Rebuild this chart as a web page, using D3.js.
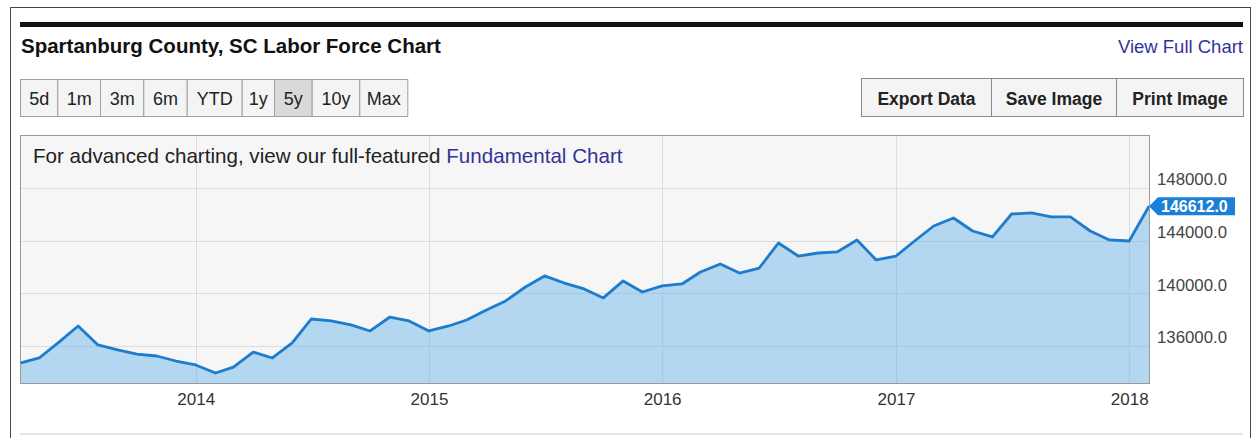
<!DOCTYPE html>
<html><head><meta charset="utf-8">
<script src="https://cdn.jsdelivr.net/npm/d3@7"></script>
<style>
html,body{margin:0;padding:0;background:#fff;}
svg{display:block;font-family:"Liberation Sans",Arial,sans-serif;}
</style></head>
<body>
<svg id="c" width="1253" height="438"></svg>
<script>
// ---- data ----
const startMonth = "2013-04";
const laborForce = [
 134700,135090,136300,137520,136080,135700,135390,135240,134860,134560,
 133950,134400,135540,135090,136230,138050,137900,137600,137140,138200,
 137900,137140,137520,137970,138730,139420,140480,141320,140780,140330,
 139650,140940,140100,140560,140710,141620,142230,141540,141920,143820,
 142830,143060,143140,144050,142530,142830,144050,145110,145720,144730,
 144280,146020,146100,145800,145800,144730,144050,143970,146612
];
const yTicks = [136000,140000,144000,148000];
const xTickYears = [2014,2015,2016,2017,2018];
const rangeButtons = ["5d","1m","3m","6m","YTD","1y","5y","10y","Max"];
const selectedRange = "5y";
const actionButtons = ["Export Data","Save Image","Print Image"];
const titleText = "Spartanburg County, SC Labor Force Chart";

// ---- build ----
const parse = d3.timeParse("%Y-%m");
const d0 = parse(startMonth);
const data = laborForce.map((v,i)=>({date:d3.timeMonth.offset(d0,i), value:v}));

const svg = d3.select("#c");
const linkColor = "#333399";
const plot = {l:20, r:1149, t:135, b:383};

// outer frame
svg.append("rect").attr("x",10.5).attr("y",7.5).attr("width",1240).attr("height",440)
  .attr("fill","none").attr("stroke","#444").attr("stroke-width",1);
// thick bar
svg.append("rect").attr("x",20).attr("y",22).attr("width",1223).attr("height",5).attr("fill","#111");
// bottom light line
svg.append("rect").attr("x",20).attr("y",433).attr("width",1223).attr("height",2).attr("fill","#e4e4e4");

// title
svg.append("text").attr("x",21).attr("y",53).attr("font-size",20.5).attr("font-weight","bold")
  .attr("fill","#111").text(titleText);
svg.append("text").attr("x",1243).attr("y",53).attr("text-anchor","end").attr("font-size",18.5)
  .attr("fill",linkColor).text("View Full Chart");

// range buttons
const leftEdges = [20,57.3,100,143.3,186.7,241.7,274,311.7,359.3,407.3];
const bg = svg.append("g");
rangeButtons.forEach((b,i)=>{
  const x0 = leftEdges[i], x1 = leftEdges[i+1];
  bg.append("rect").attr("x",x0+0.5).attr("y",79.5).attr("width",x1-x0).attr("height",37)
    .attr("fill", b===selectedRange ? "#d9d9d9" : "#f4f4f4").attr("stroke","#a0a0a0");
  bg.append("text").attr("x",(x0+x1)/2+0.5).attr("y",104.5).attr("text-anchor","middle")
    .attr("font-size",18).attr("fill","#222").text(b);
});
const rightEdges = [861,991,1116,1243];
actionButtons.forEach((b,i)=>{
  const x0 = rightEdges[i], x1 = rightEdges[i+1];
  bg.append("rect").attr("x",x0+0.5).attr("y",78.5).attr("width",x1-x0).attr("height",38)
    .attr("fill","#f4f4f4").attr("stroke","#8a8a8a");
  bg.append("text").attr("x",(x0+x1)/2+0.5).attr("y",104.5).attr("text-anchor","middle")
    .attr("font-size",17.5).attr("font-weight","bold").attr("fill","#222").text(b);
});

// scales
const x = d3.scaleTime().domain(d3.extent(data,d=>d.date)).range([plot.l,plot.r]);
const y = d3.scaleLinear().domain([133190,152020]).range([plot.b,plot.t]);

// plot background
svg.append("rect").attr("x",plot.l).attr("y",plot.t).attr("width",plot.r-plot.l).attr("height",plot.b-plot.t)
  .attr("fill","#f6f6f6");

// grid
const xTicks = xTickYears.map(yr=>new Date(yr,0,1));
svg.append("g").selectAll("line").data(xTicks).join("line")
  .attr("x1",d=>Math.round(x(d))+0.5).attr("x2",d=>Math.round(x(d))+0.5)
  .attr("y1",plot.t).attr("y2",plot.b).attr("stroke","#dcdcdc");
svg.append("g").selectAll("line").data(yTicks).join("line")
  .attr("x1",plot.l).attr("x2",plot.r)
  .attr("y1",d=>Math.round(y(d))+0.5).attr("y2",d=>Math.round(y(d))+0.5).attr("stroke","#dcdcdc");

// area + line
const area = d3.area().x(d=>x(d.date)).y0(plot.b).y1(d=>y(d.value));
const line = d3.line().x(d=>x(d.date)).y(d=>y(d.value));
svg.append("path").datum(data).attr("d",area).attr("fill","rgb(105,178,236)").attr("fill-opacity",0.47);
svg.append("path").datum(data).attr("d",line).attr("fill","none").attr("stroke","#1c7ccd")
  .attr("stroke-width",2.8).attr("stroke-linejoin","round");

// plot border
svg.append("rect").attr("x",plot.l+0.5).attr("y",plot.t+0.5).attr("width",plot.r-plot.l).attr("height",plot.b-plot.t)
  .attr("fill","none").attr("stroke","#9a9a9a");

// note text
const note = svg.append("text").attr("x",33).attr("y",163).attr("font-size",20.6).attr("fill","#222");
note.append("tspan").text("For advanced charting, view our full-featured ");
note.append("tspan").attr("fill",linkColor).text("Fundamental Chart");

// x axis labels
const xAxis = d3.axisBottom(x).tickValues(xTicks).tickFormat(d3.timeFormat("%Y")).tickSize(0).tickPadding(0);
const gx = svg.append("g").attr("transform",`translate(0,${plot.b})`).call(xAxis);
gx.select(".domain").remove();
gx.selectAll("text").attr("y",22).attr("dy",null).attr("font-size",17).attr("fill","#333")
  .attr("font-family","Liberation Sans, Arial, sans-serif");

// y axis labels (right)
const yAxis = d3.axisRight(y).tickValues(yTicks).tickFormat(d3.format(".1f")).tickSize(0).tickPadding(0);
const gy = svg.append("g").attr("transform",`translate(1157,0)`).call(yAxis);
gy.select(".domain").remove();
gy.selectAll("text").attr("x",0).attr("dy",null).attr("y",-3).attr("font-size",16.8).attr("fill","#444")
  .attr("font-family","Liberation Sans, Arial, sans-serif");

// last value callout
const last = data[data.length-1];
const ly = y(last.value), lx = x(last.date);
svg.append("path").attr("d",`M${lx},${ly} L${lx+9},${ly-9} L${lx+86},${ly-9} L${lx+86},${ly+9} L${lx+9},${ly+9} Z`)
  .attr("fill","#1a7fd6");
svg.append("text").attr("x",lx+12).attr("y",ly+5.5).attr("font-size",16).attr("font-weight","bold")
  .attr("fill","#fff").text(d3.format(".1f")(last.value));
</script>
</body></html>
